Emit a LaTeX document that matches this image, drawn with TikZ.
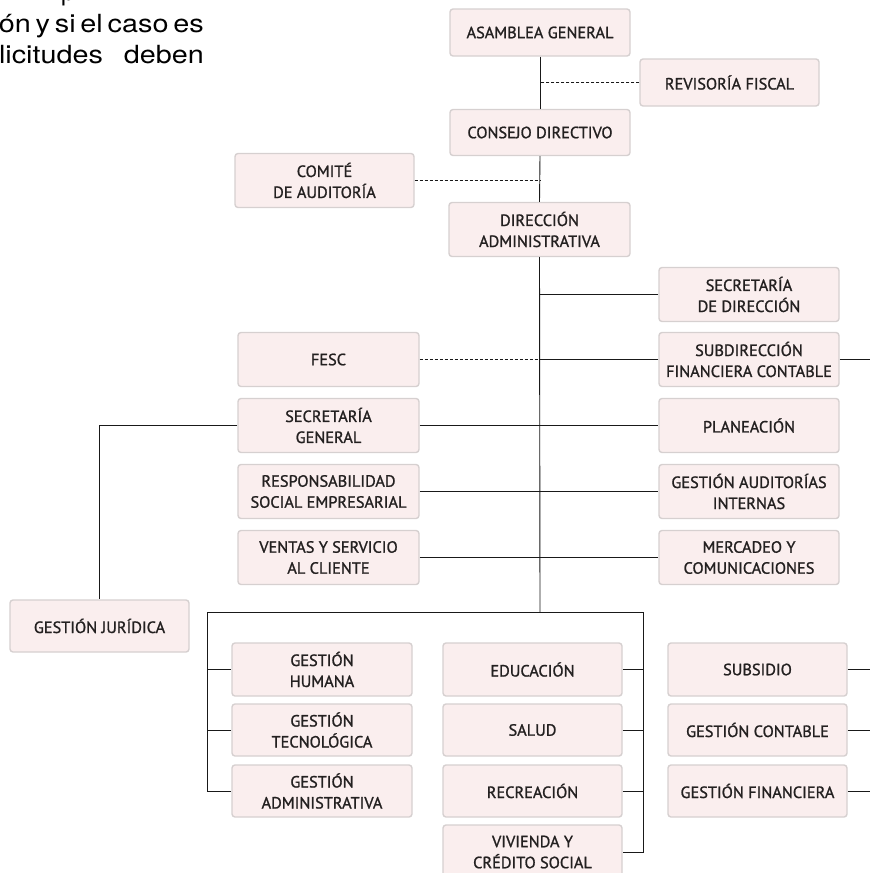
\documentclass[tikz,border=0pt]{standalone}
\usepackage{fontspec}
\usepackage{graphicx}
\setmainfont{PT Sans}
\newfontfamily\boxfont{PT Sans}[FakeBold=1.2]
\newfontfamily\topfont{TeX Gyre Heros}[WordSpace=0.6]
\definecolor{boxfill}{RGB}{250,238,238}
\definecolor{boxline}{RGB}{214,208,208}
\definecolor{boxtext}{RGB}{35,32,32}
\definecolor{linecol}{RGB}{25,25,25}
\tikzset{
  orgbox/.style={rectangle, rounded corners=3pt, fill=boxfill, draw=boxline, line width=1.4pt,
    minimum width=180pt, minimum height=54pt, inner sep=0pt, align=center,
    text=boxtext, font=\boxfont\fontsize{16.3}{21}\selectfont},
  conn/.style={draw=linecol, line width=0.9pt},
  dconn/.style={draw=linecol, line width=0.9pt, dash pattern=on 3pt off 2pt},
  toptext/.style={inner sep=0pt, font=\topfont\fontsize{25}{28}\selectfont, text=black}
}
\begin{document}
\begin{tikzpicture}[x=1pt,y=-1pt]
\useasboundingbox (0,0) rectangle (870,873);
% top-left text fragment
\node[toptext, anchor=base west] (t0) at (61,0) {p};
\node[toptext, anchor=base east] (t1) at (204,32) {\resizebox{205pt}{\height}{ón y si el caso es}};
\node[toptext, anchor=base east] (t2) at (204,63) {\scalebox{1.15}[1]{\makebox[178pt][s]{licitudes deben}}};
% boxes
\node[orgbox, minimum height=47pt] (ag) at (540,32.5) {ASAMBLEA GENERAL};
\node[orgbox, minimum height=47pt, minimum width=179pt] (rf) at (729.5,82.5) {REVISORÍA FISCAL};
\node[orgbox, minimum height=46pt] (cd) at (540,132.5) {CONSEJO DIRECTIVO};
\node[orgbox, minimum width=179pt] (ca) at (324.5,180.5) {COMITÉ\\DE AUDITORÍA};
\node[orgbox, minimum width=181pt] (da) at (539.5,229.5) {DIRECCIÓN\\ADMINISTRATIVA};
\node[orgbox] (sd) at (749,294.5) {SECRETARÍA\\DE DIRECCIÓN};
\node[orgbox, minimum width=181pt] (fesc) at (328.5,359.5) {FESC};
\node[orgbox] (sf) at (749,359.5) {SUBDIRECCIÓN\\FINANCIERA CONTABLE};
\node[orgbox, minimum width=181pt] (sg) at (328.5,425.5) {SECRETARÍA\\GENERAL};
\node[orgbox] (pl) at (749,425.5) {PLANEACIÓN};
\node[orgbox, minimum width=181pt] (rse) at (328.5,491.5) {RESPONSABILIDAD\\SOCIAL EMPRESARIAL};
\node[orgbox] (gai) at (749,491.5) {GESTIÓN AUDITORÍAS\\INTERNAS};
\node[orgbox, minimum width=181pt] (vsc) at (328.5,557.5) {VENTAS Y SERVICIO\\AL CLIENTE};
\node[orgbox] (mc) at (749,557.5) {MERCADEO Y\\COMUNICACIONES};
\node[orgbox, minimum width=179pt, minimum height=52pt] (gj) at (99.5,626) {GESTIÓN JURÍDICA};
\node[orgbox, minimum height=53pt] (gh) at (322,669.5) {GESTIÓN\\HUMANA};
\node[orgbox, minimum height=52pt] (gt) at (322,730) {GESTIÓN\\TECNOLÓGICA};
\node[orgbox, minimum height=52pt] (gad) at (322,791) {GESTIÓN\\ADMINISTRATIVA};
\node[orgbox, minimum width=179pt, minimum height=53pt] (edu) at (532.5,669.5) {EDUCACIÓN};
\node[orgbox, minimum width=179pt, minimum height=52pt] (sal) at (532.5,730) {SALUD};
\node[orgbox, minimum width=179pt, minimum height=52pt] (rec) at (532.5,791) {RECREACIÓN};
\node[orgbox, minimum width=179pt, minimum height=54pt] (viv) at (532.5,852) {VIVIENDA Y\\CRÉDITO SOCIAL};
\node[orgbox, minimum width=179pt, minimum height=53pt] (sub) at (757.5,669.5) {SUBSIDIO};
\node[orgbox, minimum width=179pt, minimum height=52pt] (gc) at (757.5,730) {GESTIÓN CONTABLE};
\node[orgbox, minimum width=179pt, minimum height=52pt] (gf) at (757.5,791) {GESTIÓN FINANCIERA};
% coordinates
\coordinate (bus) at (540,612);
\coordinate (bl) at (207,612);
\coordinate (br) at (643,612);
\coordinate (redge) at (870,0);
% connectors
\draw[conn] (ag.south) -- (cd.north);
\draw[dconn] (rf.west) -- (rf.west -| ag.south);
\draw[conn] (cd.south) -- (da.north);
\draw[dconn] (ca.east) -- (ca.east -| cd.south);
\draw[conn] (da.south) -- (bus);
\draw[conn] (sd.west) -- (sd.west -| da.south);
\draw[conn] (sf.west) -- (sf.west -| da.south);
\draw[dconn] (fesc.east) -- (fesc.east -| da.south);
\draw[conn] (sf.east) -- (sf.east -| redge);
\draw[conn] (sg.east) -- (pl.west);
\draw[conn] (rse.east) -- (gai.west);
\draw[conn] (vsc.east) -- (mc.west);
\draw[conn] (sg.west) -| (gj.north);
\draw[conn] (bl) -- (br);
\draw[conn] (bl) |- (gad.west);
\draw[conn] (bl |- gh.west) -- (gh.west);
\draw[conn] (bl |- gt.west) -- (gt.west);
\draw[conn] (br) |- (viv.east);
\draw[conn] (edu.east) -- (edu.east -| br);
\draw[conn] (sal.east) -- (sal.east -| br);
\draw[conn] (rec.east) -- (rec.east -| br);
\draw[conn] (sub.east) -- (sub.east -| redge);
\draw[conn] (gc.east) -- (gc.east -| redge);
\draw[conn] (gf.east) -- (gf.east -| redge);
\end{tikzpicture}
\end{document}
